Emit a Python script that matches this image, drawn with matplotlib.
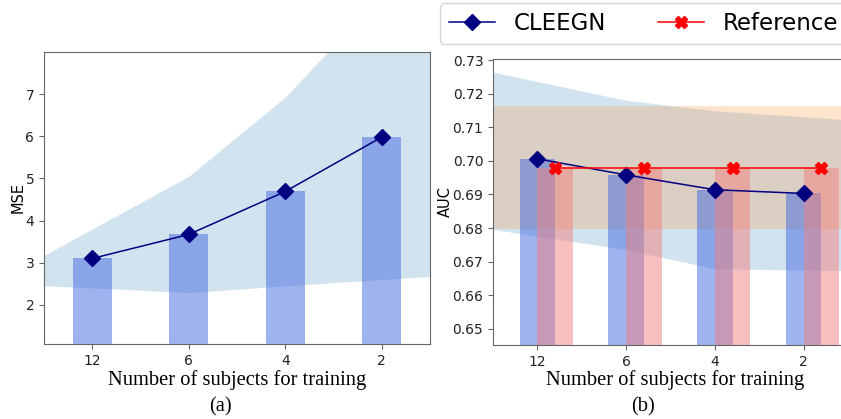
import numpy as np
import matplotlib
matplotlib.use("Agg")
import matplotlib.pyplot as plt
from matplotlib.lines import Line2D

# ---------------- data ----------------
n_subjects = ["12", "6", "4", "2"]

mse_mean = [3.10, 3.67, 4.69, 5.98]
mse_std = [0.70, 1.38, 2.24, 3.38]

auc_cleegn = [0.7006, 0.6958, 0.6914, 0.6903]
auc_cleegn_std = [0.0230, 0.0222, 0.0235, 0.0228]

auc_reference = [0.698, 0.698, 0.698, 0.698]
auc_reference_std = [0.0183, 0.0183, 0.0183, 0.0183]

mse_yticks = [2, 3, 4, 5, 6, 7]
auc_yticks = [0.65, 0.66, 0.67, 0.68, 0.69, 0.70, 0.71, 0.72, 0.73]


def extend(x, y, pad=0.5):
    """Linearly extend a series half a category beyond both ends."""
    x = np.asarray(x, float)
    y = np.asarray(y, float)
    xl = x[0] - pad
    xr = x[-1] + pad
    yl = y[0] + (y[0] - y[1]) * pad / (x[1] - x[0])
    yr = y[-1] + (y[-1] - y[-2]) * pad / (x[-1] - x[-2])
    return np.r_[xl, x, xr], np.r_[yl, y, yr]


W, H = 841, 419
fig = plt.figure(figsize=(W / 100, H / 100), dpi=100)

spine_col = "#666666"
tick_fs = 10
x = np.arange(len(n_subjects))

# ---------------- panel (a) ----------------
ax1 = fig.add_axes([44 / W, 1 - 344 / H, (430 - 44) / W, (344 - 52) / H])
m = np.array(mse_mean)
s = np.array(mse_std)
xe, up = extend(x, m + s)
_, lo = extend(x, m - s)
ax1.fill_between(xe, lo, up, color="tab:blue", alpha=0.2, linewidth=0)
ax1.bar(x, mse_mean, width=0.4, color="royalblue", alpha=0.5)
ax1.plot(x, mse_mean, color="navy", marker="D", markersize=8, linewidth=1.1)
ax1.set_xlim(-0.5, 3.5)
ax1.set_ylim(1.07, 8.0)
ax1.set_xticks(x)
ax1.set_xticklabels(n_subjects)
ax1.set_yticks(mse_yticks)
ax1.set_ylabel("MSE", fontsize=10.5, labelpad=0)

# ---------------- panel (b) ----------------
ax2 = fig.add_axes([493 / W, 1 - 345 / H, (848 - 493) / W, (345 - 59) / H])
c = np.array(auc_cleegn)
cs = np.array(auc_cleegn_std)
xe, up = extend(x, c + cs)
_, lo = extend(x, c - cs)
ax2.fill_between(xe, lo, up, color="tab:blue", alpha=0.2, linewidth=0)
r = np.array(auc_reference)
rs = np.array(auc_reference_std)
xe, up = extend(x, r + rs)
_, lo = extend(x, r - rs)
ax2.fill_between(xe, lo, up, color="tab:orange", alpha=0.2, linewidth=0)
ax2.bar(x, auc_cleegn, width=0.4, color="royalblue", alpha=0.5)
ax2.bar(x + 0.2, auc_reference, width=0.4, color="lightcoral", alpha=0.5)
ax2.plot(x, auc_cleegn, color="navy", marker="D", markersize=8, linewidth=1.1)
ax2.plot(x + 0.2, auc_reference, color="red", marker="X", markersize=9, linewidth=1.1)
ax2.set_xlim(-0.5, 3.5)
ax2.set_ylim(0.6452, 0.7303)
ax2.set_xticks(x)
ax2.set_xticklabels(n_subjects)
ax2.set_yticks(auc_yticks)
ax2.set_yticklabels([f"{v:.2f}" for v in auc_yticks])
ax2.set_ylabel("AUC", fontsize=10.5, labelpad=0)

for ax in (ax1, ax2):
    for sp in ax.spines.values():
        sp.set_color(spine_col)
    ax.tick_params(labelsize=tick_fs, color=spine_col, labelcolor="#222222")

# ---------------- texts ----------------
serif = ["Liberation Serif", "DejaVu Serif"]
fig.text(237 / W, 1 - 385 / H, "Number of subjects for training",
         ha="center", va="baseline", fontsize=14.8, family=serif)
fig.text(220 / W, 1 - 407 / H, "(a)", ha="center", va="center",
         fontsize=14.8, family=serif)
fig.text(675 / W, 1 - 385 / H, "Number of subjects for training",
         ha="center", va="baseline", fontsize=14.8, family=serif)
fig.text(643 / W, 1 - 407 / H, "(b)", ha="center", va="center",
         fontsize=14.8, family=serif)

# ---------------- legend ----------------
handles = [
    Line2D([], [], color="navy", marker="D", markersize=8, linewidth=1.1),
    Line2D([], [], color="red", marker="X", markersize=9, linewidth=1.1),
]
fig.legend(handles, ["CLEEGN", "Reference"], ncol=2, loc="upper left",
           bbox_to_anchor=(440 / W, 1 - 3 / H), borderaxespad=0,
           fontsize=16.5, columnspacing=2.3, frameon=True)

fig.savefig("out.png", dpi=100)
